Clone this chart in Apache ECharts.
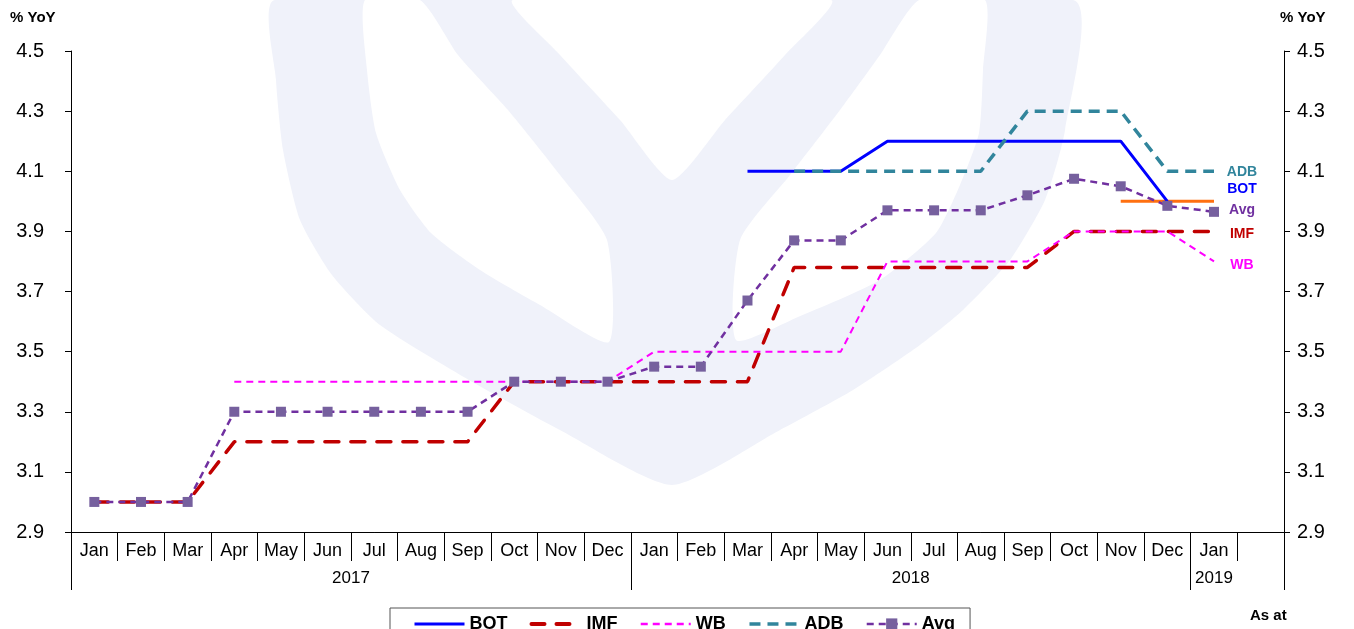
<!DOCTYPE html>
<html>
<head>
<meta charset="utf-8">
<script src="https://cdn.jsdelivr.net/npm/echarts@6/dist/echarts.min.js"></script>
<style>
  html, body { margin: 0; padding: 0; background: #fff; }
  #chart { width: 1354px; height: 629px; }
</style>
</head>
<body>
<div id="chart"></div>
<script>
// month row and year row of the x axis
const months = ['Jan', 'Feb', 'Mar', 'Apr', 'May', 'Jun', 'Jul', 'Aug', 'Sep', 'Oct', 'Nov', 'Dec',
  'Jan', 'Feb', 'Mar', 'Apr', 'May', 'Jun', 'Jul', 'Aug', 'Sep', 'Oct', 'Nov', 'Dec', 'Jan', '']
const years = ['2017', '2018', '2019']
// half-month slots where the year labels sit and where the long dividers are
const yearSlots = [12, 36, 49]
const yearDividers = [0, 24, 48, 52]

// forecasts, % YoY
const bot = [null, null, null, null, null, null, null, null, null, null, null, null,
  null, null, 4.1, 4.1, 4.1, 4.2, 4.2, 4.2, 4.2, 4.2, 4.2, 4.0, null, null]
const imf = [3.0, 3.0, 3.0, 3.2, 3.2, 3.2, 3.2, 3.2, 3.2, 3.4, 3.4, 3.4,
  3.4, 3.4, 3.4, 3.78, 3.78, 3.78, 3.78, 3.78, 3.78, 3.9, 3.9, 3.9, 3.9, null]
const wb = [null, null, null, 3.4, 3.4, 3.4, 3.4, 3.4, 3.4, 3.4, 3.4, 3.4,
  3.5, 3.5, 3.5, 3.5, 3.5, 3.8, 3.8, 3.8, 3.8, 3.9, 3.9, 3.9, 3.8, null]
const adb = [null, null, null, null, null, null, null, null, null, null, null, null,
  null, null, null, 4.1, 4.1, 4.1, 4.1, 4.1, 4.3, 4.3, 4.3, 4.1, 4.1, null]
const avg = [3.0, 3.0, 3.0, 3.3, 3.3, 3.3, 3.3, 3.3, 3.3, 3.4, 3.4, 3.4,
  3.45, 3.45, 3.67, 3.87, 3.87, 3.97, 3.97, 3.97, 4.02, 4.075, 4.05, 3.985, 3.965, null]
const botLatest = [null, null, null, null, null, null, null, null, null, null, null, null,
  null, null, null, null, null, null, null, null, null, null, 4.0, 4.0, 4.0, null]

// labels at the right end of the lines
const endNames = ['ADB', 'BOT', 'Avg', 'IMF', 'WB']
const endLevels = [4.1, 4.045, 3.975, 3.895, 3.79]
const endColors = ['#31859C', '#0000FF', '#7030A0', '#C00000', '#FF00FF']

const font = 'Liberation Sans, Arial, sans-serif'

const yearRow = []
for (let i = 0; i <= 52; i++) {
  const k = yearSlots.indexOf(i)
  yearRow.push(k >= 0 ? years[k] : '')
}

const chart = echarts.init(document.getElementById('chart'))

const yAxisBase = {
  type: 'value',
  min: 2.9,
  max: 4.5,
  interval: 0.2,
  splitLine: { show: false },
  axisLine: { show: true, lineStyle: { color: '#000', width: 1 } },
  axisTick: { show: true, length: 6, lineStyle: { color: '#000' } },
  axisLabel: {
    color: '#000', fontSize: 20, fontFamily: font,
    formatter: v => v.toFixed(1)
  }
}

// no marker in the legend for lines drawn without symbols
const noMark = { opacity: 0 }

chart.setOption({
  backgroundColor: '#fff',
  animation: false,
  grid: { left: 71, right: 70, top: 51, bottom: 97 },
  legend: {
    data: [
      { name: 'BOT', itemStyle: noMark, lineStyle: { width: 3 } },
      { name: 'IMF', itemStyle: noMark, lineStyle: { width: 4, type: [13, 12] } },
      { name: 'WB', itemStyle: noMark, lineStyle: { width: 2.5 } },
      { name: 'ADB', itemStyle: noMark, lineStyle: { width: 3.5 } },
      { name: 'Avg', lineStyle: { width: 2.5 } }
    ],
    left: 390,
    top: 608,
    padding: [7, 15, 12, 23],
    itemGap: 22,
    itemWidth: 50,
    itemHeight: 14,
    borderColor: '#555',
    borderWidth: 1,
    textStyle: { fontSize: 18, fontWeight: 'bold', color: '#000', fontFamily: font }
  },
  xAxis: [
    {
      type: 'category',
      data: months,
      position: 'bottom',
      axisLine: { lineStyle: { color: '#000', width: 1 } },
      axisTick: { show: true, interval: 0, length: 29, lineStyle: { color: '#000' } },
      axisLabel: { interval: 0, color: '#000', fontSize: 18, fontFamily: font, margin: 10 }
    },
    {
      type: 'category',
      data: yearRow,
      boundaryGap: false,
      position: 'bottom',
      axisLine: { show: false },
      axisTick: {
        show: true,
        interval: idx => yearDividers.includes(idx),
        length: 58,
        lineStyle: { color: '#000' }
      },
      axisLabel: {
        interval: idx => yearSlots.includes(idx),
        color: '#000', fontSize: 17, fontFamily: font, margin: 38
      }
    }
  ],
  yAxis: [
    Object.assign({}, yAxisBase, {
      position: 'left',
      axisLabel: Object.assign({}, yAxisBase.axisLabel, { margin: 27 })
    }),
    Object.assign({}, yAxisBase, {
      position: 'right',
      axisLabel: Object.assign({}, yAxisBase.axisLabel, { margin: 13 })
    })
  ],
  series: [
    {
      name: 'BOT latest', type: 'line', data: botLatest, symbol: 'none', z: 3,
      lineStyle: { color: '#FF7010', width: 3 }
    },
    {
      name: 'BOT', type: 'line', data: bot, symbol: 'none', z: 4,
      itemStyle: { color: '#0000FF' },
      lineStyle: { color: '#0000FF', width: 3 }
    },
    {
      name: 'IMF', type: 'line', data: imf, symbol: 'none',
      itemStyle: { color: '#C00000' },
      lineStyle: { color: '#C00000', width: 3.5, type: [14, 12], cap: 'round' }
    },
    {
      name: 'WB', type: 'line', data: wb, symbol: 'none',
      itemStyle: { color: '#FF00FF' },
      lineStyle: { color: '#FF00FF', width: 2, type: [7, 5] }
    },
    {
      name: 'ADB', type: 'line', data: adb, symbol: 'none', z: 5,
      itemStyle: { color: '#31859C' },
      lineStyle: { color: '#31859C', width: 3.5, type: [11, 7] }
    },
    {
      name: 'Avg', type: 'line', data: avg, symbol: 'rect', symbolSize: 10, z: 6,
      itemStyle: { color: '#76609E' },
      lineStyle: { color: '#7030A0', width: 2.5, type: [7, 5] }
    }
  ]
})

const wm = '#F0F2FA'
const poly = (points, fill, z) => ({
  type: 'polygon', z: z, silent: true,
  shape: { points: points, smooth: 0.2 },
  style: { fill: fill }
})
const graphics = [
  // faint logo watermark behind the plot
  poly([[275, 0], [276, 80], [283, 150], [300, 220], [332, 275], [380, 325], [469, 380], [560, 430],
    [672, 485], [780, 430], [853, 390], [920, 345], [963, 310], [1010, 260], [1045, 200], [1065, 130],
    [1073, 0]], wm, -10),
  poly([[365, 0], [367, 70], [376, 133], [400, 190], [431, 233], [480, 270], [540, 305], [609, 342],
    [607, 240], [560, 175], [508, 110], [458, 55], [420, 0]], '#fff', -9),
  poly([[513, 0], [560, 55], [620, 120], [672, 180], [725, 120], [785, 55], [831, 0]], '#fff', -9),
  poly([[985, 0], [983, 70], [979, 133], [960, 185], [936, 233], [880, 280], [798, 317], [736, 340],
    [740, 240], [790, 175], [840, 110], [880, 55], [919, 0]], '#fff', -9),
  {
    type: 'text', left: 10, top: 10,
    style: { text: '% YoY', font: 'bold 15px ' + font, fill: '#000' }
  },
  {
    type: 'text', left: 1280, top: 10,
    style: { text: '% YoY', font: 'bold 15px ' + font, fill: '#000' }
  },
  {
    type: 'text', left: 1250, top: 608,
    style: { text: 'As at', font: 'bold 15px ' + font, fill: '#000' }
  }
]

endNames.forEach((name, i) => {
  const p = chart.convertToPixel({ xAxisIndex: 0, yAxisIndex: 0 }, [24, endLevels[i]])
  graphics.push({
    type: 'text', x: p[0] + 28, y: p[1] + 1,
    style: {
      text: name, font: 'bold 14px ' + font, fill: endColors[i],
      textAlign: 'center', textVerticalAlign: 'middle'
    }
  })
})

chart.setOption({ graphic: graphics })
</script>
</body>
</html>
